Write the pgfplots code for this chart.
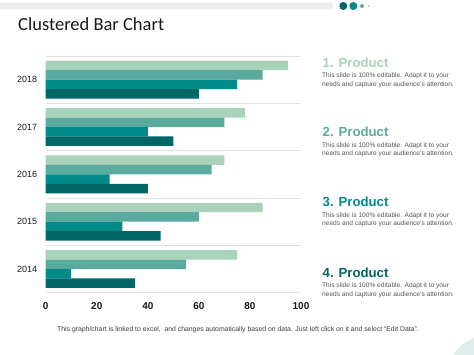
\documentclass[border=0pt]{standalone}
\usepackage{pgfplots}
\pgfplotsset{compat=1.18}
\usepackage{fontspec}
\setmainfont{Liberation Sans}
\newfontfamily\carlito{Carlito}
\definecolor{c1}{RGB}{168,210,186}
\definecolor{c2}{RGB}{91,170,158}
\definecolor{c3}{RGB}{0,138,138}
\definecolor{c4}{RGB}{0,102,102}
\definecolor{gridc}{RGB}{225,225,225}
\definecolor{bodyc}{RGB}{85,85,85}
\definecolor{topbar}{RGB}{238,238,238}
\definecolor{cornerc}{RGB}{222,238,235}
\definecolor{darktext}{RGB}{25,25,25}
\definecolor{footc}{RGB}{60,60,60}
\begin{document}
\begin{tikzpicture}
\useasboundingbox (0bp,0bp) rectangle (474bp,355bp);
\fill[white] (0bp,0bp) rectangle (474bp,355bp);
% top decoration
\fill[topbar, rounded corners=3bp] (-6bp,345.7bp) rectangle (333bp,352.3bp);
\fill[c4] (343.3bp,349bp) circle (4bp);
\fill[c3] (353.3bp,349bp) circle (4bp);
\fill[c2] (362bp,349bp) circle (2bp);
\fill[c1] (369bp,349bp) circle (1.2bp);
% corner circle
\begin{scope}
\clip (0bp,0bp) rectangle (474bp,355bp);
\fill[cornerc] (492bp,-25bp) circle (46bp);
\end{scope}
% title
\node[anchor=base west, inner sep=0, font=\carlito\fontsize{18.5bp}{20bp}\selectfont, text=darktext] at (18bp,324bp) {Clustered Bar Chart};
\begin{axis}[
  at={(45.7bp,62.3bp)}, anchor=south west,
  scale only axis, width=255.3bp, height=236.7bp,
  xmin=0, xmax=100, ymin=2013.5, ymax=2018.5,
  axis line style={draw=none},
  major tick length=0,
  xtick={0,20,40,60,80,100},
  xticklabels={0,20,40,60,80,100},
  ytick={2014,2015,2016,2017,2018},
  yticklabels={2014,2015,2016,2017,2018},
  xticklabel style={font=\bfseries\fontsize{10bp}{12bp}\selectfont, text=darktext, yshift=-6bp},
  yticklabel style={font=\fontsize{9bp}{11bp}\selectfont, text=darktext, xshift=-5bp},
  extra y ticks={2013.5,2014.5,2015.5,2016.5,2017.5,2018.5},
  extra y tick labels={},
  extra y tick style={grid=major, major grid style={gridc, line width=0.8bp}},
  clip=false,
]
\addplot[xbar, bar width=0.2, bar shift=0.3, fill=c1, draw=none] coordinates {(75,2014) (85,2015) (70,2016) (78,2017) (95,2018)};
\addplot[xbar, bar width=0.2, bar shift=0.1, fill=c2, draw=none] coordinates {(55,2014) (60,2015) (65,2016) (70,2017) (85,2018)};
\addplot[xbar, bar width=0.2, bar shift=-0.1, fill=c3, draw=none] coordinates {(10,2014) (30,2015) (25,2016) (40,2017) (75,2018)};
\addplot[xbar, bar width=0.2, bar shift=-0.3, fill=c4, draw=none] coordinates {(35,2014) (45,2015) (40,2016) (50,2017) (60,2018)};
\end{axis}
% right panel
\foreach \n/\c/\b in {1/c1/287.7, 2/c2/218.3, 3/c3/148.3, 4/c4/77.7}{
  \node[anchor=base west, inner sep=0, font=\bfseries\fontsize{13.2bp}{15bp}\selectfont, text=\c] at (322.5bp,\b bp) {\n. Product};
  \node[anchor=base west, inner sep=0, font=\fontsize{6.6bp}{8bp}\selectfont, text=bodyc] at (322bp,\b bp-10.7bp) {This slide is 100\% editable. Adapt it to your};
  \node[anchor=base west, inner sep=0, font=\fontsize{6.6bp}{8bp}\selectfont, text=bodyc] at (322bp,\b bp-19bp) {needs and capture your audience's attention.};
}
% footer
\node[anchor=base, inner sep=0, font=\fontsize{6.85bp}{8bp}\selectfont, text=footc] at (238bp,24bp) {This graph/chart is linked to excel,\ \ and changes automatically based on data. Just left click on it and select ``Edit Data''.};
\end{tikzpicture}
\end{document}
